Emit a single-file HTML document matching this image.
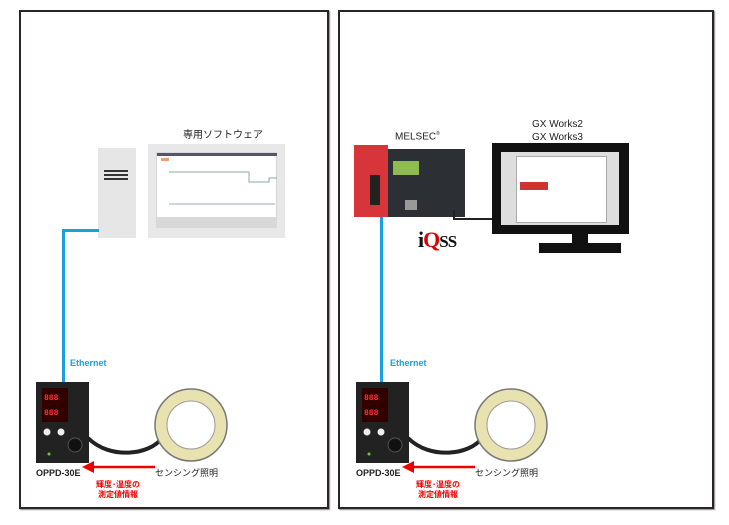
<!DOCTYPE html>
<html><head><meta charset="utf-8"><style>
body{margin:0;width:729px;height:525px;background:#fff;position:relative;overflow:hidden;font-family:"Liberation Sans","Noto Sans CJK JP",sans-serif}
.a{position:absolute}
.box{position:absolute;border:2px solid #2a2424;box-shadow:1px 1px 1px #888}
.t{position:absolute;white-space:nowrap}
</style></head><body>
<div class="box" style="left:19px;top:10px;width:306px;height:495px"></div>
<div class="box" style="left:338px;top:10px;width:372px;height:495px"></div>

<!-- left panel -->
<div class="t" style="left:183px;top:126px;font-size:10px;color:#222">専用ソフトウェア</div>
<div class="a" style="left:98px;top:148px;width:38px;height:90px;background:#e6e6e6"></div>
<div class="a" style="left:104px;top:170px;width:24px;height:2px;background:#333"></div>
<div class="a" style="left:104px;top:174px;width:24px;height:2px;background:#333"></div>
<div class="a" style="left:104px;top:178px;width:24px;height:2px;background:#333"></div>
<div class="a" style="left:148px;top:144px;width:137px;height:94px;background:#e8e8e8"></div>
<div class="a" style="left:156px;top:152px;width:121px;height:76px;background:#d8d8d8"></div>
<div class="a" style="left:157px;top:153px;width:119px;height:64px;background:#fff"></div>
<svg class="a" style="left:157px;top:153px" width="120" height="68"><rect x="0" y="0" width="120" height="3" fill="#556"/><rect x="4" y="5" width="8" height="3" fill="#f0a070"/><path d="M12 19H92V29H112V25H120" stroke="#8aa" fill="none"/><path d="M12 51H118" stroke="#9ab" fill="none"/></svg>

<div class="a" style="left:62px;top:229px;width:37px;height:3px;background:#1aa0e0"></div>
<div class="a" style="left:62px;top:229px;width:3px;height:154px;background:#1aa0e0"></div>
<div class="t" style="left:70px;top:358px;font-size:9px;font-weight:bold;color:#1aa0e0">Ethernet</div>

<!-- right panel -->
<div class="t" style="left:395px;top:131px;font-size:10px;color:#222">MELSEC<sup style="font-size:5px">®</sup></div>
<div class="t" style="left:532px;top:118px;font-size:10px;color:#222;line-height:13px;text-align:center">GX Works2<br>GX Works3</div>
<div class="a" style="left:354px;top:145px;width:34px;height:72px;background:#d8353a"></div>
<div class="a" style="left:388px;top:149px;width:77px;height:68px;background:#2c3034"></div>
<div class="a" style="left:393px;top:161px;width:26px;height:14px;background:#8fbc50"></div>
<div class="a" style="left:370px;top:175px;width:10px;height:30px;background:#222"></div>
<div class="a" style="left:405px;top:200px;width:12px;height:10px;background:#999"></div>
<div class="a" style="left:380px;top:217px;width:3px;height:166px;background:#1aa0e0"></div>
<div class="a" style="left:453px;top:210px;width:2px;height:10px;background:#222"></div>
<div class="a" style="left:453px;top:218px;width:40px;height:2px;background:#222"></div>
<div class="t" style="left:418px;top:227px;font-size:22px;font-family:'Liberation Serif',serif;font-weight:bold;color:#111;letter-spacing:-1px">i<span style="color:#d00">Q</span><span style="font-size:17px">SS</span></div>
<div class="a" style="left:492px;top:143px;width:137px;height:91px;background:#111"></div>
<div class="a" style="left:501px;top:152px;width:118px;height:73px;background:#ddd"></div>
<div class="a" style="left:516px;top:156px;width:89px;height:65px;background:#fff;border:1px solid #aaa"></div>
<div class="a" style="left:520px;top:182px;width:28px;height:8px;background:#c33"></div>
<div class="a" style="left:572px;top:234px;width:16px;height:10px;background:#111"></div>
<div class="a" style="left:539px;top:243px;width:82px;height:10px;background:#111"></div>
<div class="t" style="left:390px;top:358px;font-size:9px;font-weight:bold;color:#1aa0e0">Ethernet</div>

<!-- controllers x2 -->
<svg class="a" style="left:0;top:375px" width="729" height="140">
<g id="g">
<path d="M88 63 C110 85 150 80 162 63" stroke="#222" stroke-width="4" fill="none"/>
<circle cx="191" cy="50" r="30" fill="none" stroke="#e8e2b0" stroke-width="12"/>
<circle cx="191" cy="50" r="36" fill="none" stroke="#777" stroke-width="1.5"/>
<circle cx="191" cy="50" r="24" fill="none" stroke="#999" stroke-width="1"/>
<rect x="36" y="7" width="53" height="81" fill="#222"/>
<rect x="42" y="13" width="26" height="34" fill="#300"/>
<text x="44" y="25" font-size="8" font-weight="bold" fill="#f33" font-family="Liberation Mono">888</text>
<text x="44" y="40" font-size="8" font-weight="bold" fill="#f33" font-family="Liberation Mono">888</text>
<circle cx="47" cy="57" r="3.5" fill="#eee"/><circle cx="61" cy="57" r="3.5" fill="#eee"/>
<circle cx="75" cy="70" r="7" fill="#111" stroke="#555"/>
<circle cx="49" cy="79" r="1.5" fill="#6c4"/>
<path d="M155 92 H90" stroke="#e00" stroke-width="2.5"/><path d="M82 92 L94 86 L94 98 Z" fill="#e00"/>
<text x="36" y="101" font-size="9" font-weight="bold" fill="#222" font-family="Liberation Sans">OPPD-30E</text>
<text x="155" y="101" font-size="9" fill="#222" font-family="Noto Sans CJK JP">センシング照明</text>
<text x="118" y="112" font-size="8" font-weight="bold" fill="#e00" text-anchor="middle" font-family="Noto Sans CJK JP">輝度･温度の</text>
<text x="118" y="122" font-size="8" font-weight="bold" fill="#e00" text-anchor="middle" font-family="Noto Sans CJK JP">測定値情報</text>
</g>
<use href="#g" x="320"/>
</svg>
</body></html>
